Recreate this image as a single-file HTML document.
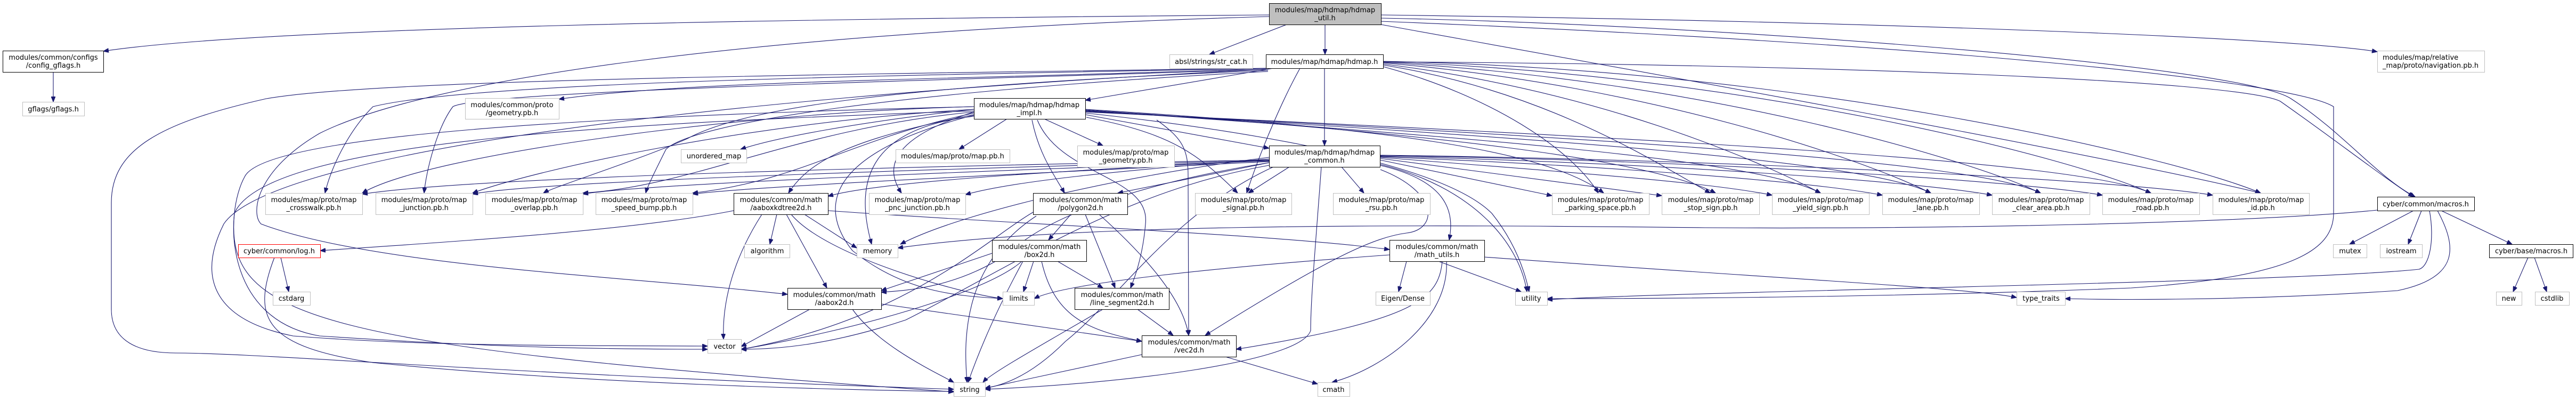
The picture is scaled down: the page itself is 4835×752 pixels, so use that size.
<!DOCTYPE html>
<html><head><meta charset="utf-8"><style>
html,body{margin:0;padding:0;background:#fff;width:4835px;height:752px;overflow:hidden}
svg{display:block}
text{font-family:"DejaVu Sans","Liberation Sans",sans-serif;font-size:13px;fill:#000;text-anchor:middle}
.e{fill:none;stroke:#191970;stroke-width:1.1;marker-end:url(#a)}
.g{fill:#fff;stroke:#bfbfbf}
.b{fill:#fff;stroke:#000}
.r{fill:#fff;stroke:#ff0000}
</style></head><body>
<svg width="4835" height="752" viewBox="0 0 4835 752" xmlns="http://www.w3.org/2000/svg">
<defs><marker id="a" markerUnits="userSpaceOnUse" markerWidth="11" markerHeight="8" refX="10" refY="4" orient="auto"><path d="M0,0 L10,4 L0,8 z" fill="#191970" stroke="#191970"/></marker></defs>
<g>
<!-- hdmap_util edges -->
<path class="e" d="M2382,28 C1500,35 500,50 194,96"/>
<path class="e" d="M2382,31 C1400,60 800,150 600,250 C480,320 470,400 490,420 C700,500 1200,520 1478,552"/>
<path class="e" d="M2415,46 L2270,102"/>
<path class="e" d="M2487,46 L2487,102"/>
<path class="e" d="M2592,28 C3500,40 4300,70 4462,97"/>
<path class="e" d="M2592,34 C3200,45 4200,120 4300,185 C4400,250 4460,330 4533,369"/>
<path class="e" d="M2592,46 C3000,120 3900,280 4243,362"/>
<path class="e" d="M2592,40 C3600,80 4300,150 4380,200 L4380,400 C4380,470 4300,520 4000,540 C3500,560 3000,560 2904,560"/>
<!-- hdmap.h edges -->
<path class="e" d="M2596,116 C3400,120 4200,150 4280,190 C4380,260 4470,330 4530,369"/>
<path class="e" d="M2390,128 L2037,188"/>
<path class="e" d="M2486,128 L2486,273"/>
<path class="e" d="M2440,128 C2400,200 2360,300 2340,362"/>
<path class="e" d="M2390,128 C1800,150 1300,150 1049,186"/>
<path class="e" d="M2380,128 C1800,140 900,150 700,200 C650,250 620,320 610,362"/>
<path class="e" d="M2380,130 C1800,150 900,170 850,200 C820,240 800,320 796,362"/>
<path class="e" d="M2380,132 C1700,160 1400,200 1290,260 C1200,300 1040,350 1020,362"/>
<path class="e" d="M2380,134 C1700,170 1300,230 1250,280 C1230,320 1215,350 1212,362"/>
<path class="e" d="M2376,128 C1500,140 700,150 500,185 C300,230 209,280 209,380 L209,580 C209,640 260,662 330,662 C500,662 900,700 1790,730"/>
<path class="e" d="M2376,130 C1200,190 500,300 420,420 C370,520 400,600 550,630 C800,650 1100,648 1328,649"/>
<path class="e" d="M2596,125 C2800,180 2950,280 3000,362"/>
<path class="e" d="M2596,122 C2900,170 3100,300 3210,362"/>
<path class="e" d="M2596,120 C3000,170 3300,300 3417,362"/>
<path class="e" d="M2596,118 C3100,160 3500,300 3624,362"/>
<path class="e" d="M2596,117 C3200,150 3700,300 3830,362"/>
<path class="e" d="M2596,116 C3300,140 3900,300 4037,362"/>
<path class="e" d="M2596,115 C3400,130 4100,300 4243,362"/>
<!-- hdmap_impl edges -->
<path class="e" d="M1890,223 L1800,280"/>
<path class="e" d="M1960,223 L2070,273"/>
<path class="e" d="M2037,215 L2382,278"/>
<path class="e" d="M1937,225 C1950,290 1980,330 1998,362"/>
<path class="e" d="M1947,225 C1990,330 2160,330 2150,420 C2145,480 2130,520 2122,540"/>
<path class="e" d="M2171,225 C2220,260 2230,280 2230,330 L2231,629"/>
<path class="e" d="M2039,220 C2200,250 2250,290 2323,362"/>
<path class="e" d="M1828,210 C1700,250 1650,300 1692,362"/>
<path class="e" d="M1828,218 C1640,240 1600,330 1636,458"/>
<path class="e" d="M1828,205 C1600,230 1450,260 1390,280"/>
<path class="e" d="M1828,215 C1600,260 1520,300 1480,362"/>
<path class="e" d="M1828,200 C1400,210 800,290 680,362"/>
<path class="e" d="M1828,205 C1400,230 1000,320 887,362"/>
<path class="e" d="M1828,210 C1500,240 1300,350 1094,362"/>
<path class="e" d="M1828,212 C1600,260 1500,340 1300,362"/>
<path class="e" d="M1828,200 C1000,220 500,260 460,330 C420,400 420,600 600,630 C900,650 1100,655 1328,655"/>
<path class="e" d="M1828,208 C1200,230 500,260 440,400 C420,600 600,650 1790,735"/>
<path class="e" d="M1828,216 C1500,300 1560,420 1600,470 C1700,550 1800,555 1882,560"/>
<path class="e" d="M2037,205 C2600,240 2900,280 3010,362"/>
<path class="e" d="M2037,206 C2700,250 3100,300 3220,362"/>
<path class="e" d="M2037,207 C2800,260 3300,300 3417,362"/>
<path class="e" d="M2037,208 C2900,260 3500,300 3624,362"/>
<path class="e" d="M2037,209 C3000,260 3700,300 3830,362"/>
<path class="e" d="M2037,210 C3100,260 3900,300 4037,362"/>
<path class="e" d="M2037,212 C2300,240 2700,300 2800,400 C2840,450 2860,500 2870,547"/>
<!-- hdmap_common edges -->
<path class="e" d="M2420,313 L2343,362"/>
<path class="e" d="M2518,313 L2560,362"/>
<path class="e" d="M2382,305 L2098,362"/>
<path class="e" d="M2480,313 C2470,450 2460,560 2460,620 C2440,680 2100,720 1849,730"/>
<path class="e" d="M2591,318 C2700,360 2700,430 2640,437 C2580,445 2500,480 2262,629"/>
<path class="e" d="M2590,310 C2720,340 2730,400 2720,450"/>
<path class="e" d="M2590,308 C2760,350 2850,450 2866,547"/>
<path class="e" d="M2590,300 L2913,367"/>
<path class="e" d="M2590,297 L3119,367"/>
<path class="e" d="M2590,295 C2900,320 3200,340 3326,366"/>
<path class="e" d="M2590,294 C3000,310 3400,340 3533,366"/>
<path class="e" d="M2590,293 C3100,305 3600,340 3739,366"/>
<path class="e" d="M2590,292 C3200,300 3800,340 3946,366"/>
<path class="e" d="M2590,291 C3300,300 4000,340 4153,366"/>
<path class="e" d="M2382,298 C2100,320 1900,340 1812,365"/>
<path class="e" d="M2382,295 C2100,330 1800,400 1690,458"/>
<path class="e" d="M2382,300 C2000,320 1650,340 1554,368"/>
<path class="e" d="M2382,300 C1800,310 900,330 680,364"/>
<path class="e" d="M2382,301 C1800,315 1000,340 887,364"/>
<path class="e" d="M2382,302 C1900,318 1200,345 1094,364"/>
<path class="e" d="M2382,303 C2000,322 1400,350 1300,364"/>
<path class="e" d="M2382,305 C2100,350 1950,420 1900,470 C1800,540 1700,545 1654,548"/>
<path class="e" d="M2382,310 C2100,360 1900,500 1700,600 C1550,650 1450,655 1391,655"/>
<path class="e" d="M2390,313 C2200,400 2100,560 2000,640 C1950,690 1900,720 1849,728"/>
<!-- math_utils -->
<path class="e" d="M2640,490 L2625,547"/>
<path class="e" d="M2700,490 L2855,547"/>
<path class="e" d="M2715,490 C2720,600 2600,690 2500,717"/>
<path class="e" d="M2707,490 C2700,560 2660,600 2320,655"/>
<path class="e" d="M2608,478 C2300,500 2000,530 1941,560"/>
<path class="e" d="M2786,482 C3300,520 3700,540 3785,558"/>
<!-- polygon2d -->
<path class="e" d="M2010,402 L1968,450"/>
<path class="e" d="M2037,402 L2093,540"/>
<path class="e" d="M2063,402 C2150,480 2220,560 2231,629"/>
<path class="e" d="M1939,398 C1850,450 1700,600 1391,655"/>
<path class="e" d="M1945,405 C1800,500 1810,650 1815,717"/>
<!-- box2d -->
<path class="e" d="M1940,490 L1921,547"/>
<path class="e" d="M1985,490 L2070,540"/>
<path class="e" d="M1862,475 L1654,545"/>
<path class="e" d="M1955,490 C1980,600 2050,620 2143,640"/>
<path class="e" d="M1918,490 C1850,550 1600,620 1391,655"/>
<path class="e" d="M1920,490 C1860,600 1830,680 1817,717"/>
<!-- line_segment2d, vec2d -->
<path class="e" d="M2135,580 L2202,629"/>
<path class="e" d="M2070,580 C1950,650 1860,700 1845,717"/>
<path class="e" d="M2143,665 L1849,728"/>
<path class="e" d="M2300,669 L2473,720"/>
<!-- aabox2d -->
<path class="e" d="M1520,580 L1391,650"/>
<path class="e" d="M1654,570 L2143,640"/>
<path class="e" d="M1600,580 C1650,650 1760,700 1790,717"/>
<!-- aaboxkdtree2d -->
<path class="e" d="M1458,402 L1445,458"/>
<path class="e" d="M1476,402 L1552,540"/>
<path class="e" d="M1430,402 C1380,480 1355,560 1358,636"/>
<path class="e" d="M1510,402 L1608,465"/>
<path class="e" d="M1485,402 C1550,480 1800,550 1882,560"/>
<path class="e" d="M1377,395 C1200,430 900,450 601,470"/>
<path class="e" d="M1554,395 C1900,420 2400,440 2608,468"/>
<!-- log, gflags -->
<path class="e" d="M527,483 L542,547"/>
<path class="e" d="M515,483 C470,600 500,650 700,680 C1100,720 1600,732 1790,734"/>
<path class="e" d="M100,135 L100,191"/>
<!-- cyber macros -->
<path class="e" d="M4530,395 L4410,458"/>
<path class="e" d="M4545,395 L4520,458"/>
<path class="e" d="M4582,395 L4715,458"/>
<path class="e" d="M4560,395 C4570,450 4560,500 4540,505 C4300,530 3200,545 2904,562"/>
<path class="e" d="M4575,395 C4610,460 4620,520 4500,545 C4200,565 3950,562 3876,560"/>
<path class="e" d="M4462,394 C4200,420 3600,430 3200,427 C2600,420 2000,420 1685,465"/>
<path class="e" d="M4745,483 L4717,547"/>
<path class="e" d="M4757,483 L4780,547"/>
</g>
<!-- nodes -->
<g>
<rect class="b" x="5.5" y="95.5" width="189" height="40"/><text x="100" y="112">modules/common/configs</text><text x="100" y="127">/config_gflags.h</text>
<rect class="g" x="42.5" y="191.5" width="116" height="26"/><text x="100" y="209">gflags/gflags.h</text>
<rect class="g" x="873.5" y="184.5" width="176" height="39"/><text x="961" y="201">modules/common/proto</text><text x="961" y="216">/geometry.pb.h</text>
<rect class="g" x="1278.5" y="280.5" width="123" height="25"/><text x="1340" y="297">unordered_map</text>
<rect class="g" x="498.5" y="362.5" width="182" height="40"/><text x="589" y="379">modules/map/proto/map</text><text x="589" y="394">_crosswalk.pb.h</text>
<rect class="g" x="705.5" y="362.5" width="182" height="40"/><text x="796" y="379">modules/map/proto/map</text><text x="796" y="394">_junction.pb.h</text>
<rect class="g" x="911.5" y="362.5" width="183" height="40"/><text x="1003" y="379">modules/map/proto/map</text><text x="1003" y="394">_overlap.pb.h</text>
<rect class="g" x="1118.5" y="362.5" width="182" height="40"/><text x="1209" y="379">modules/map/proto/map</text><text x="1209" y="394">_speed_bump.pb.h</text>
<rect class="b" x="1377.5" y="362.5" width="177" height="40"/><text x="1466" y="379">modules/common/math</text><text x="1466" y="394">/aaboxkdtree2d.h</text>
<rect class="r" x="447.5" y="458.5" width="154" height="25"/><text x="524" y="475">cyber/common/log.h</text>
<rect class="g" x="1397.5" y="458.5" width="85" height="25"/><text x="1440" y="475">algorithm</text>
<rect class="g" x="512.5" y="547.5" width="70" height="25"/><text x="547" y="564">cstdarg</text>
<rect class="b" x="1478.5" y="540.5" width="176" height="40"/><text x="1566" y="557">modules/common/math</text><text x="1566" y="572">/aabox2d.h</text>
<rect class="g" x="1328.5" y="636.5" width="63" height="26"/><text x="1360" y="654">vector</text>
<rect x="2382.5" y="6.5" width="210" height="40" fill="#bfbfbf" stroke="#000"/><text x="2487" y="23">modules/map/hdmap/hdmap</text><text x="2487" y="38">_util.h</text>
<rect class="g" x="2195.5" y="102.5" width="156" height="26"/><text x="2273" y="120">absl/strings/str_cat.h</text>
<rect class="b" x="2376.5" y="102.5" width="220" height="26"/><text x="2486" y="120">modules/map/hdmap/hdmap.h</text>
<rect class="b" x="1828.5" y="184.5" width="209" height="39"/><text x="1932" y="201">modules/map/hdmap/hdmap</text><text x="1932" y="216">_impl.h</text>
<rect class="g" x="1681.5" y="280.5" width="214" height="25"/><text x="1788" y="297">modules/map/proto/map.pb.h</text>
<rect class="g" x="2022.5" y="273.5" width="182" height="40"/><text x="2113" y="290">modules/map/proto/map</text><text x="2113" y="305">_geometry.pb.h</text>
<rect class="b" x="2382.5" y="273.5" width="208" height="40"/><text x="2486" y="290">modules/map/hdmap/hdmap</text><text x="2486" y="305">_common.h</text>
<rect class="g" x="1631.5" y="362.5" width="181" height="40"/><text x="1722" y="379">modules/map/proto/map</text><text x="1722" y="394">_pnc_junction.pb.h</text>
<rect class="b" x="1939.5" y="362.5" width="177" height="40"/><text x="2028" y="379">modules/common/math</text><text x="2028" y="394">/polygon2d.h</text>
<rect class="g" x="2243.5" y="362.5" width="181" height="40"/><text x="2334" y="379">modules/map/proto/map</text><text x="2334" y="394">_signal.pb.h</text>
<rect class="g" x="2502.5" y="362.5" width="182" height="40"/><text x="2593" y="379">modules/map/proto/map</text><text x="2593" y="394">_rsu.pb.h</text>
<rect class="g" x="2913.5" y="362.5" width="182" height="40"/><text x="3004" y="379">modules/map/proto/map</text><text x="3004" y="394">_parking_space.pb.h</text>
<rect class="g" x="3119.5" y="362.5" width="183" height="40"/><text x="3211" y="379">modules/map/proto/map</text><text x="3211" y="394">_stop_sign.pb.h</text>
<rect class="g" x="1608.5" y="458.5" width="77" height="25"/><text x="1647" y="475">memory</text>
<rect class="b" x="1862.5" y="450.5" width="177" height="40"/><text x="1951" y="467">modules/common/math</text><text x="1951" y="482">/box2d.h</text>
<rect class="b" x="2608.5" y="450.5" width="178" height="40"/><text x="2697" y="467">modules/common/math</text><text x="2697" y="482">/math_utils.h</text>
<rect class="g" x="1882.5" y="547.5" width="59" height="25"/><text x="1912" y="564">limits</text>
<rect class="b" x="2017.5" y="540.5" width="177" height="40"/><text x="2106" y="557">modules/common/math</text><text x="2106" y="572">/line_segment2d.h</text>
<rect class="g" x="2582.5" y="547.5" width="102" height="25"/><text x="2633" y="564">Eigen/Dense</text>
<rect class="g" x="2844.5" y="547.5" width="60" height="25"/><text x="2874" y="564">utility</text>
<rect class="b" x="2143.5" y="629.5" width="177" height="40"/><text x="2232" y="646">modules/common/math</text><text x="2232" y="661">/vec2d.h</text>
<rect class="g" x="1790.5" y="717.5" width="59" height="26"/><text x="1820" y="735">string</text>
<rect class="g" x="2473.5" y="717.5" width="60" height="26"/><text x="2503" y="735">cmath</text>
<rect class="g" x="3326.5" y="362.5" width="182" height="40"/><text x="3417" y="379">modules/map/proto/map</text><text x="3417" y="394">_yield_sign.pb.h</text>
<rect class="g" x="3533.5" y="362.5" width="182" height="40"/><text x="3624" y="379">modules/map/proto/map</text><text x="3624" y="394">_lane.pb.h</text>
<rect class="g" x="3739.5" y="362.5" width="183" height="40"/><text x="3831" y="379">modules/map/proto/map</text><text x="3831" y="394">_clear_area.pb.h</text>
<rect class="g" x="3946.5" y="362.5" width="182" height="40"/><text x="4037" y="379">modules/map/proto/map</text><text x="4037" y="394">_road.pb.h</text>
<rect class="g" x="4153.5" y="362.5" width="181" height="40"/><text x="4244" y="379">modules/map/proto/map</text><text x="4244" y="394">_id.pb.h</text>
<rect class="g" x="4462.5" y="95.5" width="201" height="40"/><text x="4472" y="112" style="text-anchor:start">modules/map/relative</text><text x="4472" y="127" style="text-anchor:start">_map/proto/navigation.pb.h</text>
<rect class="b" x="4462.5" y="369.5" width="182" height="26"/><text x="4553" y="387">cyber/common/macros.h</text>
<rect class="g" x="4379.5" y="458.5" width="63" height="25"/><text x="4411" y="475">mutex</text>
<rect class="g" x="4467.5" y="458.5" width="79" height="25"/><text x="4507" y="475">iostream</text>
<rect class="b" x="4672.5" y="458.5" width="157" height="25"/><text x="4751" y="475">cyber/base/macros.h</text>
<rect class="g" x="3785.5" y="547.5" width="91" height="25"/><text x="3831" y="564">type_traits</text>
<rect class="g" x="4685.5" y="547.5" width="48" height="25"/><text x="4709" y="564">new</text>
<rect class="g" x="4758.5" y="547.5" width="64" height="25"/><text x="4790" y="564">cstdlib</text>
</g>
</svg>
</body></html>
